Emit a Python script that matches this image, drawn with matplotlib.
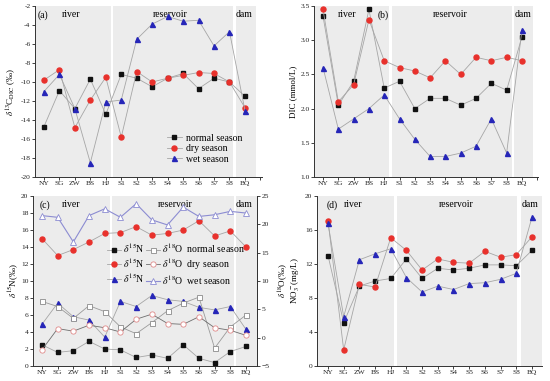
import matplotlib
matplotlib.use("Agg")
import matplotlib.pyplot as plt
from matplotlib.lines import Line2D

plt.rcParams['font.family'] = ['Liberation Serif', 'DejaVu Serif']
plt.rcParams['mathtext.fontset'] = 'stix'

sites = ["NY", "SG", "ZW", "BS", "HJ", "S1", "S2", "S3", "S4", "S5", "S6", "S7", "S8", "BQ"]

# (a) d13C-DIC
c13_normal = [-14.7, -10.9, -12.8, -9.7, -13.4, -9.2, -9.6, -10.5, -9.6, -9.1, -10.7, -9.6, -10.0, -11.5]
c13_dry    = [-9.8, -8.7, -14.8, -11.9, -9.5, -15.8, -8.9, -10.0, -9.6, -9.3, -9.0, -9.1, -10.0, -12.7]
c13_wet    = [-11.0, -9.2, -12.8, -18.5, -12.1, -11.9, -5.5, -3.9, -3.1, -3.6, -3.5, -6.2, -4.7, -13.0]

# (b) DIC
dic_normal = [3.35, 2.05, 2.40, 3.45, 2.30, 2.40, 2.00, 2.15, 2.15, 2.05, 2.15, 2.37, 2.27, 3.05]
dic_dry    = [3.45, 2.10, 2.35, 3.30, 2.70, 2.60, 2.55, 2.45, 2.70, 2.50, 2.75, 2.70, 2.75, 2.70]
dic_wet    = [2.60, 1.70, 1.85, 2.00, 2.20, 1.85, 1.55, 1.30, 1.30, 1.35, 1.45, 1.85, 1.35, 3.15]

# (c) d15N (left axis) and d18O (right axis)
n15_normal = [2.5, 1.6, 1.8, 2.9, 2.0, 1.9, 1.0, 1.3, 0.9, 2.5, 0.9, 0.4, 1.7, 2.3]
n15_dry    = [15.0, 13.0, 13.7, 14.6, 15.6, 15.7, 16.4, 15.4, 15.6, 16.0, 17.1, 15.3, 15.9, 14.0]
n15_wet    = [4.9, 7.4, 5.8, 5.4, 3.4, 7.6, 7.0, 8.3, 7.8, 7.6, 6.9, 6.6, 7.0, 4.3]
o18_normal = [6.4, 5.5, 3.4, 5.65, 4.6, 1.9, 0.7, 2.65, 4.75, 6.1, 7.15, -1.85, 1.9, 4.0]
o18_dry    = [-2.15, 1.6, 1.15, 2.2, 1.75, 1.0, 3.25, 4.15, 2.5, 2.35, 3.7, 1.75, 1.3, 0.4]
o18_wet    = [21.55, 21.25, 16.9, 21.55, 22.75, 21.25, 23.65, 20.8, 19.9, 23.05, 21.4, 21.7, 22.3, 22.0]

# (d) NO3-
no3_normal = [13.0, 5.1, 9.4, 10.0, 10.3, 12.6, 10.3, 11.5, 11.3, 11.5, 11.9, 11.9, 11.8, 13.6]
no3_dry    = [17.1, 1.9, 9.6, 9.3, 15.1, 13.6, 11.3, 12.6, 12.2, 12.1, 13.5, 12.8, 13.1, 15.2]
no3_wet    = [16.8, 5.8, 12.5, 13.2, 13.8, 10.4, 8.7, 9.4, 9.0, 9.7, 9.8, 10.2, 10.9, 17.5]

season_labels = ["normal season", "dry season", "wet season"]
zone_labels = ["river", "reservoir", "dam"]

LINE = '#a6a6a6'
BLACK = '#111111'
RED = '#e8312c'
BLUE = '#2626b8'
SHADE = '#ececec'
TXT = 7.0
TICK = 5.4

fig = plt.figure(figsize=(5.5, 3.81), dpi=100)

def style_ticks(ax):
    ax.tick_params(direction='out', length=2.2, width=0.6, labelsize=TICK, pad=1.0, colors='#222222')

def make_ax(rect, xlim, spans, ylim, yticks, yfmt, zone_x, zone_y, plabel, plabel_x):
    ax = fig.add_axes(rect)
    for (a, b) in spans:
        ax.axvspan(a, b, color=SHADE, lw=0, zorder=0)
    ax.set_xlim(*xlim)
    ax.set_ylim(*ylim)
    ax.set_yticks(yticks)
    ax.set_yticklabels([yfmt.format(v) for v in yticks])
    n = int(xlim[1] + 0.01)
    ticks = list(range(n + 1))
    ax.set_xticks(ticks)
    ax.set_xticklabels([sites[i] if i < len(sites) else '' for i in ticks])
    style_ticks(ax)
    for s in ['top', 'right']:
        ax.spines[s].set_visible(False)
    for s in ['left', 'bottom']:
        ax.spines[s].set_linewidth(0.7)
        ax.spines[s].set_color('#333333')
    for zx, zl in zip(zone_x, zone_labels):
        ax.text(zx, zone_y, zl, ha='center', va='top', fontsize=TXT, transform=ax.get_xaxis_transform())
    ax.text(plabel_x, zone_y, plabel, ha='center', va='top', fontsize=TXT, transform=ax.get_xaxis_transform())
    return ax

x = list(range(len(sites)))

def plot3(ax, a, b, c, ms=3.6):
    ax.plot(x, a, color=LINE, lw=0.6, marker='s', ms=ms - 0.3, mfc=BLACK, mec=BLACK, zorder=3, label=season_labels[0])
    ax.plot(x, b, color=LINE, lw=0.6, marker='o', ms=ms, mfc=RED, mec=RED, zorder=3, label=season_labels[1])
    ax.plot(x, c, color=LINE, lw=0.6, marker='^', ms=ms, mfc=BLUE, mec=BLUE, zorder=3, label=season_labels[2])

BOT_ROW = [0.0394, 0.446]

# (a)
axa = make_ax([0.0636, 0.5354, 0.4127, 0.4488], (-0.58, 14.1),
              [(-0.58, 4.33), (4.46, 12.22), (12.42, 13.71)],
              (-20, -2), list(range(-20, -1, 2)), '{:d}',
              [1.75, 8.15, 12.95], 0.975, '(a)', -0.05)
plot3(axa, c13_normal, c13_dry, c13_wet)
axa.set_ylabel(r'$\delta^{13}$C$_{\mathrm{DIC}}$ (‰)', fontsize=6.5, labelpad=2)
axa.legend(loc='center left', bbox_to_anchor=(0.55, 0.165), frameon=False, fontsize=TXT,
           handlelength=1.6, labelspacing=0.15, handletextpad=0.4, borderpad=0.2)

# (b)
axb = make_ax([0.5709, 0.5354, 0.4073, 0.4488], (-0.59, 14.05),
              [(-0.59, 4.31), (4.51, 12.35), (12.48, 13.75)],
              (1.0, 3.5), [1.0, 1.5, 2.0, 2.5, 3.0, 3.5], '{:.1f}',
              [1.55, 8.3, 13.07], 0.975, '(b)', 3.9)
plot3(axb, dic_normal, dic_dry, dic_wet)
axb.set_ylabel('DIC (mmol/L)', fontsize=6.5, labelpad=2)

# (c)
axc = make_ax([0.06, BOT_ROW[0], 0.4073, BOT_ROW[1]], (-0.57, 13.7),
              [(-0.57, 4.33), (4.46, 12.24), (12.36, 13.7)],
              (0, 20), list(range(0, 21, 2)), '{:d}',
              [1.85, 8.5, 12.9], 0.975, '(c)', 0.2)
axc.set_xticks(range(14))
axc.set_xticklabels(sites)
axc.spines['right'].set_visible(True)
axc.spines['right'].set_linewidth(0.7)
axc.spines['right'].set_color('#333333')
axc2 = axc.twinx()
axc2.set_ylim(-5, 25)
axc2.set_yticks(list(range(-5, 26, 5)))
style_ticks(axc2)
for s in ['top', 'left', 'bottom']:
    axc2.spines[s].set_visible(False)
axc2.spines['right'].set_linewidth(0.7)
axc2.spines['right'].set_color('#333333')

h1 = axc.plot(x, n15_normal, color=LINE, lw=0.6, marker='s', ms=3.3, mfc=BLACK, mec=BLACK, zorder=3)[0]
h2 = axc.plot(x, n15_dry, color=LINE, lw=0.6, marker='o', ms=3.6, mfc=RED, mec=RED, zorder=3)[0]
h3 = axc.plot(x, n15_wet, color=LINE, lw=0.6, marker='^', ms=3.6, mfc=BLUE, mec=BLUE, zorder=3)[0]
h4 = axc2.plot(x, o18_normal, color='#9a9a9a', lw=0.6, marker='s', ms=3.6, mfc='white', mec='#8a8a8a', mew=0.6, zorder=3)[0]
h5 = axc2.plot(x, o18_dry, color='#6e6e6e', lw=0.6, marker='o', ms=3.8, mfc='white', mec='#e08a8a', mew=0.6, zorder=3)[0]
h6 = axc2.plot(x, o18_wet, color='#8c8cd2', lw=0.8, marker='^', ms=3.8, mfc='white', mec='#8c8cd2', mew=0.6, zorder=3)[0]
axc.set_ylabel(r'$\delta^{15}$N(‰)', fontsize=6.5, labelpad=1)
axc2.legend([h1, h2, h3, h4, h5, h6],
            [r'$\delta^{15}$N'] * 3 + [r'$\delta^{18}$O  ' + s for s in season_labels],
            ncol=2, loc='center left', bbox_to_anchor=(0.3, 0.6), frameon=False, fontsize=TXT,
            handlelength=1.4, labelspacing=0.12, handletextpad=0.2, columnspacing=0.2, borderpad=0.2)

# (d)
axd = make_ax([0.5764, BOT_ROW[0], 0.409, BOT_ROW[1]], (-0.7, 13.64),
              [(-0.7, 4.2), (4.4, 12.05), (12.3, 13.64)],
              (0, 20), [0, 4, 8, 12, 16, 20], '{:d}',
              [1.6, 8.2, 12.9], 0.975, '(d)', 0.26)
axd.set_xticks(range(14))
axd.set_xticklabels(sites)
plot3(axd, no3_normal, no3_dry, no3_wet)
axd.set_ylabel('$\\delta^{18}$O(‰)\nNO$_3^-$(mg/L)', fontsize=6.5, labelpad=2, linespacing=1.0)

fig.savefig('out.png', dpi=100)
